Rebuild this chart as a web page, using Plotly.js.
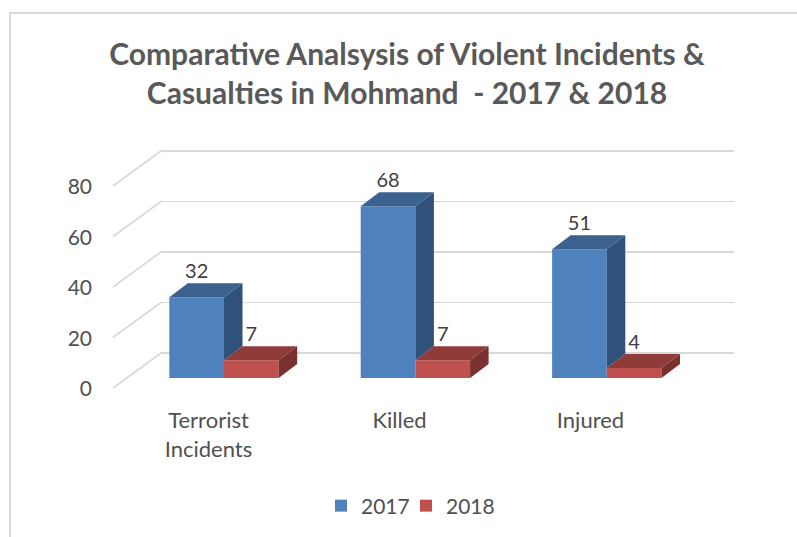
<!DOCTYPE html>
<html>
<head>
<meta charset="utf-8">
<script src="https://cdn.plot.ly/plotly-3.0.1.min.js"></script>
<style>html,body{margin:0;padding:0;background:#fff}#chart{width:797px;height:537px}</style>
</head>
<body>
<div id="chart"></div>
<script>
const categories = ['Terrorist<br>Incidents', 'Killed', 'Injured'];
const seriesNames = ['2017', '2018'];
const values2017 = [32, 68, 51];
const values2018 = [7, 7, 4];
const yTicks = [0, 20, 40, 60, 80];
const titleText = 'Comparative Analsysis of Violent Incidents &<br>Casualties in Mohmand  - 2017 &amp; 2018';

const W = 797, H = 537;
const frontColors = ['#4F81BD', '#C0504D'];
const topColors = ['#3B618F', '#8F3B39'];
const sideColors = ['#305179', '#7A302E'];
const textColor = '#505050';

// pixel calibration of the three planes of the pseudo-3D box
const pxPerCat = 191.4, pxPerUnit = 2.525;
const barOriginX = 224, barOriginY = 378;   // bar plane: category 0 boundary, value 0
const frontLeft = 113, frontRight = 686, frontFloor = 388;
const backLeft = 161, backRight = 734, backFloor = 353;
const depthX = 18.5 / pxPerCat, depthY = 14 / pxPerUnit;
const gap = 1.5;
const barW = 1 / (2 + gap);

const idx = categories.map((_, i) => i);
const pad = 5;
function dom(floorPx, lo, hi) {
  return [(H - (floorPx - lo * pxPerUnit)) / H, (H - (floorPx - hi * pxPerUnit)) / H];
}

function poly(pointsFn, n) {
  const xs = [], ys = [];
  for (let i = 0; i < n; i++) {
    const p = pointsFn(i);
    p.forEach(q => { xs.push(q[0]); ys.push(q[1]); });
    xs.push(p[0][0], null); ys.push(p[0][1], null);
  }
  return {x: xs, y: ys};
}
function face(points, color) {
  const p = poly(points, idx.length);
  return {type: 'scatter', mode: 'lines', x: p.x, y: p.y, xaxis: 'x2', yaxis: 'y2',
    fill: 'toself', fillcolor: color, line: {width: 0}, showlegend: false, hoverinfo: 'skip'};
}

const wallX = [], wallY = [];
const wallFrontX = (frontLeft - barOriginX) / pxPerCat, wallBackX = (backLeft - barOriginX) / pxPerCat;
yTicks.forEach(t => {
  wallX.push(wallFrontX, wallBackX, null);
  wallY.push(t + (barOriginY - frontFloor) / pxPerUnit, t + (barOriginY - backFloor) / pxPerUnit, null);
});

const traces = [
  // back wall (its y axis draws the horizontal grid)
  {type: 'scatter', mode: 'markers', x: [0], y: [0], marker: {opacity: 0}, xaxis: 'x', yaxis: 'y',
    showlegend: false, hoverinfo: 'skip'},
  // bar fronts
  {type: 'bar', name: seriesNames[0], x: idx, y: values2017, marker: {color: frontColors[0]},
    xaxis: 'x2', yaxis: 'y2', hoverinfo: 'skip'},
  {type: 'bar', name: seriesNames[1], x: idx, y: values2018, marker: {color: frontColors[1]},
    xaxis: 'x2', yaxis: 'y2', hoverinfo: 'skip'},
  // left wall grid
  {type: 'scatter', mode: 'lines', x: wallX, y: wallY, xaxis: 'x2', yaxis: 'y2',
    line: {color: '#D9D9D9', width: 1.6}, showlegend: false, hoverinfo: 'skip'},
  // 2017 side and top
  face(i => [[i, values2018[i]], [i + depthX, values2018[i] + depthY], [i + depthX, values2017[i] + depthY], [i, values2017[i]]], sideColors[0]),
  face(i => [[i - barW, values2017[i]], [i, values2017[i]], [i + depthX, values2017[i] + depthY], [i - barW + depthX, values2017[i] + depthY]], topColors[0]),
  // 2018 side and top
  face(i => [[i + barW, 0], [i + barW + depthX, depthY], [i + barW + depthX, values2018[i] + depthY], [i + barW, values2018[i]]], sideColors[1]),
  face(i => [[i, values2018[i]], [i + barW, values2018[i]], [i + barW + depthX, values2018[i] + depthY], [i + depthX, values2018[i] + depthY]], topColors[1]),
  // data labels
  {type: 'scatter', mode: 'text', x: idx.map(i => i - barW / 2), y: values2017.map(v => v + depthY),
    text: values2017.map(String), textposition: 'top center', textfont: {family: 'Lato', size: 20, color: '#404040'},
    xaxis: 'x2', yaxis: 'y2', showlegend: false, hoverinfo: 'skip', cliponaxis: false},
  {type: 'scatter', mode: 'text', x: idx.map(i => i + barW / 2), y: values2018.map(v => v + depthY),
    text: values2018.map(String), textposition: 'top center', textfont: {family: 'Lato', size: 20, color: '#404040'},
    xaxis: 'x2', yaxis: 'y2', showlegend: false, hoverinfo: 'skip', cliponaxis: false},
  // front plane: carries the tick labels
  {type: 'scatter', mode: 'markers', x: categories, y: categories.map(() => 0), marker: {opacity: 0},
    xaxis: 'x3', yaxis: 'y3', showlegend: false, hoverinfo: 'skip'}
];

const layout = {
  width: W, height: H,
  margin: {l: 0, r: 0, t: 0, b: 0},
  paper_bgcolor: '#fff', plot_bgcolor: 'rgba(0,0,0,0)',
  font: {family: 'Lato', color: textColor, size: 20},
  title: {text: titleText, font: {family: 'Lato', size: 30, weight: 700, color: '#595959'},
    x: 407 / W, xanchor: 'center', y: 1 - 65 / H, yref: 'container', yanchor: 'middle'},
  barmode: 'group', bargap: gap / (2 + gap), bargroupgap: 0,
  showlegend: true,
  legend: {orientation: 'h', x: 406 / W, xanchor: 'center', y: 1 - 506 / H, yanchor: 'middle',
    font: {family: 'Lato', size: 21, color: textColor}, itemclick: false, itemdoubleclick: false,
    entrywidth: 40, traceorder: 'normal', bgcolor: 'rgba(0,0,0,0)'},
  xaxis: {domain: [backLeft / W, backRight / W], range: [0, 1], visible: false, anchor: 'y'},
  yaxis: {domain: dom(backFloor, -pad, 80 + pad), range: [-pad, 80 + pad], anchor: 'x',
    tickmode: 'array', tickvals: yTicks, showticklabels: false, ticks: '', showline: false,
    zeroline: false, showgrid: true, gridcolor: '#D9D9D9', gridwidth: 1.6},
  xaxis2: {domain: [0, 1], range: [-barOriginX / pxPerCat, (W - barOriginX) / pxPerCat], visible: false, anchor: 'y2'},
  yaxis2: {domain: [0, 1], range: [(barOriginY - H) / pxPerUnit, barOriginY / pxPerUnit], visible: false, anchor: 'x2'},
  xaxis3: {domain: [frontLeft / W, frontRight / W], type: 'category', categoryorder: 'array', categoryarray: categories,
    range: [-0.5, 2.5], anchor: 'y3', showgrid: false, zeroline: false, showline: false, ticks: '',
    tickfont: {family: 'Lato', size: 22, color: textColor}, tickangle: 0, ticklabelstandoff: 16},
  yaxis3: {domain: dom(frontFloor + 1, 0, 80), range: [0, 80], anchor: 'x3', tickmode: 'array', tickvals: yTicks,
    showgrid: false, zeroline: false, showline: false, ticks: '',
    tickfont: {family: 'Lato', size: 21, color: textColor}, ticklabelstandoff: 20},
  shapes: [
    {type: 'line', xref: 'paper', yref: 'paper', x0: 10 / W, x1: 10 / W, y0: 0, y1: 1 - 12 / H, line: {color: '#D9D9D9', width: 2}},
    {type: 'line', xref: 'paper', yref: 'paper', x0: 9 / W, x1: 1, y0: 1 - 13 / H, y1: 1 - 13 / H, line: {color: '#D9D9D9', width: 2}}
  ]
};

Plotly.newPlot('chart', traces, layout, {displayModeBar: false, staticPlot: true}).then(() => {
  // the legend box is narrower than its fixed-width entries need: let the last label show in full
  const box = document.querySelector('.legend .scrollbox');
  if (box) box.removeAttribute('clip-path');
});
</script>
</body>
</html>
